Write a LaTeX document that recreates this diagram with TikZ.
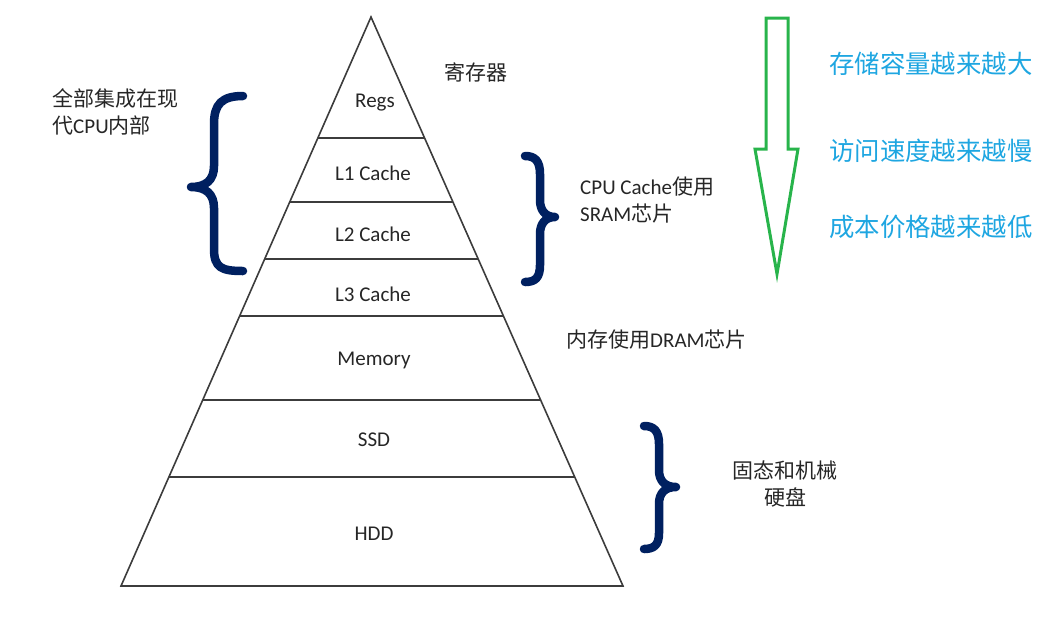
\documentclass[tikz,border=0pt]{standalone}
\usepackage{fontspec}
\setmainfont{Carlito}
\newfontfamily\cjk{Noto Sans CJK SC}
\usetikzlibrary{calc}
\definecolor{pyr}{RGB}{60,60,60}
\definecolor{navy}{RGB}{0,32,96}
\definecolor{arrowgreen}{RGB}{40,180,75}
\definecolor{skyblue}{RGB}{30,166,225}
\tikzset{
  pyrline/.style={draw=pyr, line width=1.6pt},
  layerlabel/.style={font=\fontsize{21}{25}\selectfont, text=black!85, inner sep=0pt},
  note/.style={font=\fontsize{21}{27}\selectfont, text=black!85, inner sep=0pt, align=left},
  bluenote/.style={font=\cjk\fontsize{25.4}{28}\selectfont, text=skyblue, inner sep=0pt, anchor=west},
  bracestroke/.style={draw=navy, line width=8.5pt, line cap=round, line join=round},
}
\begin{document}
\begin{tikzpicture}[x=1pt,y=-1pt]
\useasboundingbox (0,0) rectangle (1052,625);
% pyramid
\coordinate (A) at (371,17);
\coordinate (L) at (121,586);
\coordinate (R) at (623,586);
\draw[pyrline, line join=miter] (L) -- (A) -- (R) -- cycle;
\foreach \t/\n in {0.2127/1,0.3251/2,0.4253/3,0.5255/4,0.6731/5,0.8084/6}{
  \coordinate (l\n) at ($(A)!\t!(L)$);
  \coordinate (r\n) at ($(A)!\t!(R)$);
  \draw[pyrline] (l\n) -- (r\n);
}
% layer labels
\node[layerlabel] (regs) at (375,103) {Regs};
\node[layerlabel] (l1c) at (373,173) {L1 Cache};
\node[layerlabel] (l2c) at (373,234) {L2 Cache};
\node[layerlabel] (l3c) at (373,294) {L3 Cache};
\node[layerlabel] (mem) at (374,360) {Memory};
\node[layerlabel] (ssd) at (374,440) {SSD};
\node[layerlabel] (hdd) at (374,534) {HDD};
% side notes
\node[note, anchor=west] (reg) at (444,72) {\cjk 寄存器};
\node[note, anchor=north west] (allcpu) at (52,88) {{\cjk 全部集成在现}\\{\cjk 代}CPU{\cjk 内部}};
\node[note, anchor=north west] (sram) at (580,177) {CPU Cache{\cjk 使用}\\SRAM{\cjk 芯片}};
\node[note, anchor=west] (dram) at (566,340) {{\cjk 内存使用}DRAM{\cjk 芯片}};
\node[note, anchor=north, align=center] (disk) at (785,461) {\cjk 固态和机械\\\cjk 硬盘};
% braces
\draw[bracestroke] (243,96) .. controls (222,96) and (214,104) .. (214,124) -- (214,166)
  .. controls (214,180) and (206,187) .. (191,187)
  .. controls (206,187) and (214,194) .. (214,208) -- (214,249)
  .. controls (214,268) and (222,271) .. (243,271);
\draw[bracestroke] (525,156) .. controls (535,156) and (540,161) .. (540,174) -- (540,200)
  .. controls (540,211) and (546,217) .. (555,217)
  .. controls (546,217) and (540,223) .. (540,234) -- (540,265)
  .. controls (540,278) and (535,282) .. (525,282);
\draw[bracestroke] (644,426) .. controls (654,426) and (659,431) .. (659,444) -- (659,470)
  .. controls (659,481) and (665,487) .. (676,487)
  .. controls (665,487) and (659,493) .. (659,504) -- (659,533)
  .. controls (659,545) and (654,549) .. (644,549);
% green arrow
\draw[draw=arrowgreen, line width=3pt, line join=miter]
  (766,18) -- (788,18) -- (788,149) -- (798,149) -- (777,274) -- (755,149) -- (766,149) -- cycle;
% blue notes
\node[bluenote] (cap) at (829,64) {存储容量越来越大};
\node[bluenote] (spd) at (829,151) {访问速度越来越慢};
\node[bluenote] (cost) at (829,227) {成本价格越来越低};
\end{tikzpicture}
\end{document}
